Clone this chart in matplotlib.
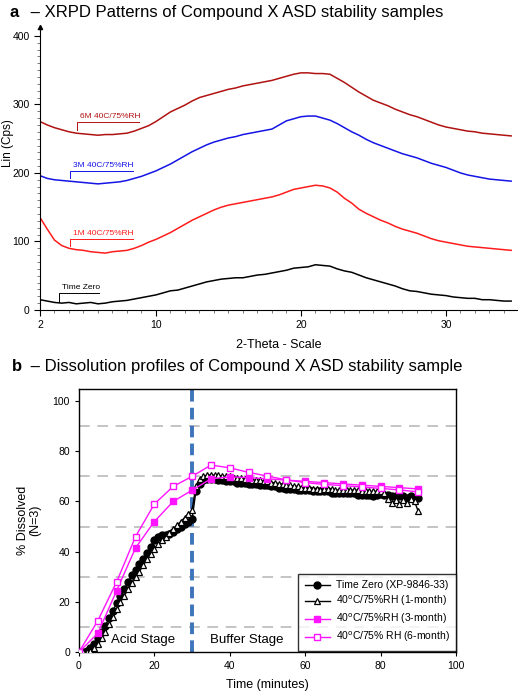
import matplotlib
matplotlib.use("Agg")
import matplotlib.pyplot as plt
import numpy as np

plt.rcParams['font.family'] = ['Liberation Sans', 'DejaVu Sans']

# ======================
# XRPD DATA (0.5 deg steps)
# ======================
theta = np.arange(2, 35, 0.5)

xrpd_t0 = [15, 13, 11, 10, 11, 9, 10, 11, 9, 10, 12, 13, 14, 16, 18, 20, 22, 25, 28, 29,
           32, 35, 38, 41, 43, 45, 46, 47, 47, 49, 51, 52, 54, 56, 58, 61, 62, 63, 66, 65,
           64, 60, 57, 55, 51, 47, 44, 41, 38, 35, 31, 28, 27, 25, 23, 22, 21, 19, 18, 17,
           17, 15, 15, 14, 13, 13]
xrpd_1m = [135, 118, 102, 94, 90, 88, 87, 85, 84, 83, 85, 86, 87, 90, 94, 99, 103, 108, 113, 119,
           125, 131, 136, 141, 146, 150, 153, 155, 157, 159, 161, 163, 165, 168, 172, 176, 178, 180, 182, 181,
           178, 172, 163, 156, 147, 141, 136, 131, 127, 122, 118, 115, 112, 108, 104, 101, 99, 97, 95, 93,
           92, 91, 90, 89, 88, 87]
xrpd_3m = [196, 192, 190, 189, 188, 187, 186, 185, 184, 185, 186, 187, 189, 192, 195, 199, 203, 208, 213, 219,
           225, 231, 236, 241, 245, 248, 251, 253, 256, 258, 260, 262, 264, 270, 276, 279, 282, 283, 283, 280,
           277, 272, 266, 260, 255, 249, 244, 240, 236, 232, 228, 225, 222, 218, 214, 211, 208, 204, 200, 197,
           195, 193, 191, 190, 189, 188]
xrpd_6m = [275, 270, 266, 263, 260, 258, 257, 256, 255, 256, 256, 257, 258, 261, 265, 269, 275, 282, 289, 294,
           299, 305, 310, 313, 316, 319, 322, 324, 327, 329, 331, 333, 335, 338, 341, 344, 346, 346, 345, 345,
           344, 338, 332, 325, 318, 312, 306, 302, 298, 293, 289, 285, 282, 278, 274, 270, 267, 265, 263, 261,
           260, 258, 257, 256, 255, 254]

# ======================
# DISSOLUTION DATA
# ======================
t_dense = np.arange(0, 91, 1)
diss_t0 = [0, 0, 0.5, 1.5, 3, 5.5, 8, 10.5, 13.5, 16.5, 19.5, 22.5, 25, 28, 30.5, 32.5, 35, 37, 39.5, 42,
           44.5, 46, 46.5, 46.5, 47, 48, 49, 50, 51, 52, 53,
           64, 67, 68.5, 69, 69, 69, 68.5, 68.5, 68, 68, 68, 67.5, 67.5, 67.5, 67, 67, 67, 66.5, 66.5,
           66.5, 66, 66, 65.5, 65.5, 65, 65, 65, 64.5, 64.5, 64.5, 64.5, 64, 64, 64, 64, 64, 63.5, 63.5, 63.5,
           63.5, 63.5, 63.5, 63.5, 62.5, 62.5, 62.5, 62.5, 62, 62.5, 63, 62.5, 62.5, 62, 62, 62, 62, 61.5, 62, 61.5,
           61.5]
diss_1m = [0, 0, 0, 0.5, 1.5, 3, 5.5, 8, 11, 14, 17, 20, 22.5, 25, 27.5, 30, 32, 34.5, 37, 39,
           41, 43, 44.5, 46, 47.5, 49, 50.5, 52, 53.5, 55, 56.5,
           66, 69, 70, 70.5, 70.5, 70.5, 70.5, 70, 70, 70, 69.5, 69.5, 69.5, 69, 69, 68.5, 68.5, 68.5, 68,
           68, 67.5, 67.5, 67, 67, 66.5, 66.5, 66, 66, 65.5, 65.5, 65.5, 65, 65, 64.5, 65, 65, 65, 64.5, 64.5,
           64.5, 64.5, 64.5, 64.5, 64.5, 64, 64, 64, 64, 64, 64, 63.5, 61, 59.5, 60.5, 59, 60.5, 59.5, 61, 60,
           56]

t_5min = np.arange(0, 91, 5)
diss_3m = [0, 7.5, 24.5, 41.5, 52, 60, 64.5, 69, 69.8, 69.5, 69, 68.5, 68, 67.5, 67, 66.5, 66, 65.5, 65]
diss_6m = [0, 12.5, 28, 46, 59, 66, 70, 74.5, 73.4, 71.6, 70.1, 68.6, 67.5, 66.8, 66.3, 65.8, 65.2, 64.6, 63.8]

fig = plt.figure(figsize=(5.18, 6.91), dpi=100)

# ======================
# PANEL A - XRPD
# ======================
ax1 = fig.add_axes([0.0772, 0.5514, 0.9208, 0.4096])
ax1.plot(theta, xrpd_t0, color='black', lw=1.1)
ax1.plot(theta, xrpd_1m, color='#ff1c1c', lw=1.1)
ax1.plot(theta, xrpd_3m, color='#1414e6', lw=1.1)
ax1.plot(theta, xrpd_6m, color='#b01212', lw=1.1)

ax1.set_xlim(2, 34.9)
ax1.set_ylim(0, 413)
ax1.set_xticks([2, 10, 20, 30])
ax1.set_xticks(np.arange(2, 35, 1), minor=True)
ax1.set_yticks([0, 100, 200, 300, 400])
ax1.set_yticks(np.arange(0, 411, 10), minor=True)
ax1.spines['top'].set_visible(False)
ax1.spines['right'].set_visible(False)
ax1.tick_params(which='major', direction='out', length=4, width=0.8, labelsize=7.5)
ax1.tick_params(which='minor', direction='out', length=2.5, width=0.6, color='#666666')
ax1.plot(0, 1, '^', color='black', ms=3, transform=ax1.transAxes, clip_on=False)
ax1.set_xlabel('2-Theta - Scale', fontsize=9, labelpad=6)
ax1.set_ylabel('Lin (Cps)', fontsize=8.5)
ax1.yaxis.set_label_coords(-0.054, 0.59)

# sample labels with leader lines
labels = [('6M 40C/75%RH', '#b01212', 4.55, 274, 262),
          ('3M 40C/75%RH', '#1414e6', 4.1, 203, 193),
          ('1M 40C/75%RH', '#ff1c1c', 4.1, 104, 94),
          ('Time Zero', 'black', 3.3, 25, 12)]
for txt, c, x0, yl, yc in labels:
    w = 4.3 if 'Zero' not in txt else 2.8
    ax1.plot([x0, x0, x0 + w], [yc, yl, yl], color=c, lw=0.7)
    ax1.text(x0 + 0.2, yl + 3, txt, color=c, fontsize=6, va='bottom', ha='left')

fig.text(0.019, 0.982, 'a', fontsize=12, fontweight='bold', va='center', ha='left')
fig.text(0.05, 0.982, ' – XRPD Patterns of Compound X ASD stability samples', fontsize=12,
         va='center', ha='left')

# ======================
# PANEL B - DISSOLUTION
# ======================
ax2 = fig.add_axes([0.1525, 0.0564, 0.7278, 0.3806])
for yg in [10, 30, 50, 70, 90]:
    ax2.axhline(yg, color='#b4b4b4', lw=1.1, dashes=(7, 5), zorder=1)
ax2.axvline(30, color='#3d74ba', lw=2.8, dashes=(3, 1.6), zorder=2)

ax2.plot(t_dense, diss_t0, color='black', lw=1, marker='o', ms=5,
         mfc='black', mec='black', label='Time Zero (XP-9846-33)', zorder=3)
ax2.plot(t_dense, diss_1m, color='black', lw=1, marker='^', ms=5,
         mfc='white', mec='black', mew=0.9, label='40$^{\\rm o}$C/75%RH (1-month)', zorder=4)
ax2.plot(t_5min, diss_3m, color='#ff14ff', lw=1, marker='s', ms=5,
         mfc='#ff14ff', mec='#ff14ff', label='40$^{\\rm o}$C/75%RH (3-month)', zorder=5)
ax2.plot(t_5min, diss_6m, color='#ff14ff', lw=1, marker='s', ms=5,
         mfc='white', mec='#ff14ff', mew=1, label='40$^{\\rm o}$C/75% RH (6-month)', zorder=6)

ax2.set_xlim(0, 100)
ax2.set_ylim(0, 104.8)
ax2.set_xticks(np.arange(0, 101, 20))
ax2.set_yticks(np.arange(0, 101, 20))
ax2.tick_params(direction='out', length=3, width=0.8, labelsize=7.5, top=False, right=False)
for s in ax2.spines.values():
    s.set_linewidth(1.0)
ax2.set_xlabel('Time (minutes)', fontsize=9, labelpad=6)
ax2.set_ylabel('% Dissolved\n(N=3)', fontsize=9, labelpad=8, linespacing=1.0)

ax2.text(17, 4.8, 'Acid Stage', fontsize=9.5, ha='center', va='center')
ax2.text(44.6, 4.8, 'Buffer Stage', fontsize=9.5, ha='center', va='center')

leg = ax2.legend(loc='lower right', bbox_to_anchor=(1.0, 0.005), fontsize=7.5,
                 frameon=True, fancybox=False, borderaxespad=0, handlelength=2.4,
                 labelspacing=0.35, borderpad=0.6, handletextpad=0.6)
leg.get_frame().set_edgecolor('black')
leg.get_frame().set_linewidth(1.0)

fig.text(0.023, 0.470, 'b', fontsize=12, fontweight='bold', va='center', ha='left')
fig.text(0.05, 0.470, ' – Dissolution profiles of Compound X ASD stability sample', fontsize=12,
         va='center', ha='left')

fig.savefig('out.png', dpi=100)
